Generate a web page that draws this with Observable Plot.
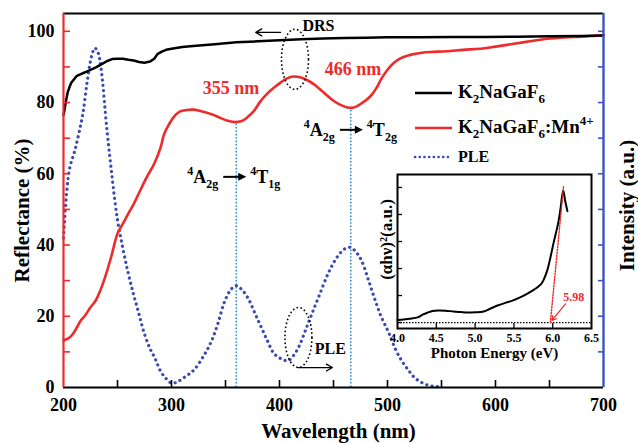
<!DOCTYPE html>
<html><head><meta charset="utf-8">
<script src="https://cdn.jsdelivr.net/npm/d3@7"></script>
<script src="https://cdn.jsdelivr.net/npm/@observablehq/plot@0.6"></script>
<style>
body{margin:0;background:#fff;}
#wrap{position:relative;width:638px;height:443px;overflow:hidden;}
#wrap svg{position:absolute;}
</style></head><body><div id="wrap"></div>
<script>
// ---------- data ----------
const drsWl = [200,201,202,204,207,212,216,220,225,230,235,240,245,250,255,260,265,270,275,280,284,287,291,295,300,310,320,340,360,380,400,420,440,460,480,500,530,560,590,620,650,680,700];
const drsR  = [76.5,78,80,83,85.5,87.4,88,88.5,89.2,89.9,90.7,91.6,92.2,92.3,92.3,92,91.8,91.4,91.2,91.5,92.3,93.6,94.3,94.8,95.1,95.6,95.9,96.4,96.9,97.2,97.5,97.8,98,98.1,98.2,98.3,98.3,98.4,98.4,98.5,98.6,98.7,98.8];

const mnWl = [200,206,210,216,220,225,230,234,238,244,250,255,260,265,271,277,284,290,293,297,302,308,314,320,326,332,339,345,352,359,365,370,376,382,388,395,401,407,413,419,425,432,438,444,450,456,462,467,472,478,484,490,494,500,506,512,518,524,532,540,555,570,586,600,617,632,648,664,679,694,700];
const mnR  = [13.2,14.1,15.6,18.8,20.2,22.5,24.5,27.2,30.5,36.5,43.2,46,48.8,51.5,55.3,59,62.8,67.5,71,73.5,75.9,77.5,77.9,78,77.7,77.2,76.5,75.7,74.9,74.5,74.8,75.8,77.5,80.2,82.3,84.2,85.6,86.8,87.3,87.1,86.4,85.1,83.6,82,80.5,79.4,78.7,78.5,79,80.2,81.7,84.2,86.5,89.2,91.2,92.4,93.1,93.6,94,94.2,94.4,94.8,95.1,95.7,96.5,97.2,97.9,98.3,98.5,98.8,98.9];

const pleWl = [200,203,206,210,214,218,222,226,229,232,235,240,245,250,255,260,265,270,275,280,285,290,295,300,305,310,315,321,330,337,343,349,355,360,365,371,377,383,389,395,402,408,413,418,424,430,437,445,451,457,462,466,471,476,482,488,494,501,507,513,519,525,531,538,545,550];
const pleI  = [42,55,62,66,71,77,86,93,95.3,94,89,73,59,47,39,32,26,20.5,15,11,8,4.5,2.5,1.2,1.5,2.5,3.5,5,9,13,18,24,27.5,28.6,27.5,25,21,17,13,9.5,8,7.5,9,11.5,16,20.7,26,32,35.5,38,39.2,39.3,38,35.6,30.5,25,20,15.5,11,7.6,5,2.8,1.5,0.6,0.3,0.2];

const xTickLabels = [200,300,400,500,600,700];
const xTickMarks = [250,300,350,400,450,500,550,600,650];
const yTickLabels = [0,20,40,60,80,100];
const yTickMarks = [10,20,30,40,50,60,70,80,90,100];
const rightTickMarks = [10,20,30,40,50,60,70,80,90,100];

const dropX = [360,466];          // excitation peaks
const dropY = [74.5,78.5];        // red trough reflectance at those peaks

const peakLabels = ["355 nm","466 nm"];
const peakLabelX = [355,468];
const peakLabelY = [84,89.3];

const transFrom = [["4","A","2g"],["4","A","2g"]];
const transTo   = [["4","T","1g"],["4","T","2g"]];
const transX = [359,467];
const transY = [59,72.2];

const ellipseX = [414.8,418];
const ellipseY = [92,13.9];
const noteText = ["DRS","PLE"];
const noteX = [436,447];
const noteY = [101.6,10.8];
const noteArrowX1 = [401,417];
const noteArrowX2 = [378,449];
const noteArrowY  = [99.7,5.6];

const legendLabels = [
  [["K","n"],["2","sub"],["NaGaF","n"],["6","sub"]],
  [["K","n"],["2","sub"],["NaGaF","n"],["6","sub"],[":Mn","n"],["4+","sup"]],
  [["PLE","n"]]
];

// inset (Tauc plot)
const taucE = [4.0,4.04,4.15,4.26,4.33,4.39,4.45,4.53,4.62,4.72,4.81,4.91,5.0,5.11,5.2,5.29,5.38,5.49,5.58,5.68,5.75,5.8,5.85,5.88,5.93,5.97,6.01,6.04,6.07,6.1,6.135,6.16,6.19];
const taucV = [0.1,0.1,0.14,0.19,0.3,0.37,0.43,0.45,0.44,0.41,0.39,0.37,0.38,0.41,0.52,0.63,0.72,0.82,0.93,1.08,1.2,1.3,1.42,1.56,1.93,2.4,2.93,3.3,3.67,4.2,4.89,4.52,4.12];
const tangentE = [5.97,6.14];
const tangentV = [0,5.05];
const gapText = "5.98";
const gapTextE = 6.27, gapTextV = 0.94;
const gapArrow = {x1:6.165, y1:0.69, x2:5.99, y2:0.08};
const insetXTicks = [4.0,4.5,5.0,5.5,6.0,6.5];
const insetYTicks = [0,1,2,3,4,5];

// ---------- styles ----------
const FONT = "'Liberation Serif','Times New Roman',serif";
const RED = "#ee2a2a", BLUE = "#3c4bb0", AXBLUE = "#3d55c0", DROP = "#2e90d4";

const W = 638, H = 443, mL = 63, mR = 35, mT = 13, mB = 56;
const pw = W - mL - mR, ph = H - mT - mB;

const drs = drsWl.map((x,i)=>({x, y: drsR[i]}));
const mn = mnWl.map((x,i)=>({x, y: mnR[i]}));
const ple = pleWl.map((x,i)=>({x, y: pleI[i]}));
const drops = dropX.map((x,i)=>({x, y: dropY[i]}));
const peaks = peakLabels.map((t,i)=>({t, x: peakLabelX[i], y: peakLabelY[i]}));
const notes = noteText.map((t,i)=>({t, x: noteX[i], y: noteY[i]}));
const noteArrows = noteArrowX1.map((x1,i)=>({x1, x2: noteArrowX2[i], y: noteArrowY[i]}));

function addRich(textSel, parts, big, small) {
  let cur = 0;
  for (const [s, kind] of parts) {
    const target = kind === "sub" ? 5 : kind === "sup" ? -8 : 0;
    textSel.append("tspan").attr("font-size", kind === "n" ? big : small)
      .attr("dy", target - cur).text(s);
    cur = target;
  }
}

const ellipseMark = (index, scales) => {
  const g = d3.create("svg:g").attr("fill","none").attr("stroke","black")
    .attr("stroke-width",1.6).attr("stroke-dasharray","1.6 2.4");
  ellipseX.forEach((x,i)=>{
    g.append("ellipse").attr("cx", scales.x(x)).attr("cy", scales.y(ellipseY[i]))
      .attr("rx", 13.5).attr("ry", 30);
  });
  return g.node();
};

const transitionMark = (index, scales) => {
  const g = d3.create("svg:g").attr("font-family", FONT).attr("font-weight","bold").attr("fill","black");
  transX.forEach((x,i)=>{
    const cx = scales.x(x), cy = scales.y(transY[i]);
    const half = 11.5;
    g.append("line").attr("x1", cx-half).attr("x2", cx+half-6).attr("y1", cy).attr("y2", cy)
      .attr("stroke","black").attr("stroke-width",2);
    g.append("path").attr("d", `M${cx+half},${cy}L${cx+half-8},${cy-4}L${cx+half-8},${cy+4}Z`);
    const t1 = g.append("text").attr("x", cx-half-5).attr("y", cy+6).attr("text-anchor","end");
    addRich(t1, [[transFrom[i][0],"sup"],[transFrom[i][1],"n"],[transFrom[i][2],"sub"]], 18, 12);
    const t2 = g.append("text").attr("x", cx+half+4).attr("y", cy+6).attr("text-anchor","start");
    addRich(t2, [[transTo[i][0],"sup"],[transTo[i][1],"n"],[transTo[i][2],"sub"]], 18, 12);
  });
  return g.node();
};

const legendMark = () => {
  const g = d3.create("svg:g").attr("font-family", FONT).attr("font-weight","bold").attr("fill","black");
  const ys = [93,128,157];
  const strokes = ["black", RED, BLUE];
  legendLabels.forEach((parts,i)=>{
    const y = ys[i];
    const ln = g.append("line").attr("x1",415).attr("x2",452).attr("y1",y).attr("y2",y)
      .attr("stroke", strokes[i]);
    if (i < 2) ln.attr("stroke-width",2.5);
    else ln.attr("stroke-width",2.6).attr("stroke-dasharray","0.1 4.6").attr("stroke-linecap","round");
    const t = g.append("text").attr("x",458).attr("y",y+5).attr("text-anchor","start");
    addRich(t, parts, i < 2 ? 19 : 16, 13);
  });
  return g.node();
};

const txt = {fontWeight: "bold", fill: "black", lineAnchor: "middle"};

const main = Plot.plot({
  width: W, height: H, marginLeft: mL, marginRight: mR, marginTop: mT, marginBottom: mB,
  style: {background: "white", fontFamily: FONT, fontWeight: "bold", overflow: "visible"},
  x: {domain: [200,700], axis: null},
  y: {domain: [0,105], axis: null},
  marks: [
    Plot.ruleX(drops, {x: "x", y1: 0, y2: "y", stroke: DROP, strokeWidth: 1.6, strokeDasharray: "1.6 1.8"}),
    Plot.line(ple, {x: "x", y: "y", stroke: BLUE, strokeWidth: 3.2, strokeDasharray: "0.1 5.3", strokeLinecap: "round", curve: "catmull-rom"}),
    Plot.line(mn, {x: "x", y: "y", stroke: RED, strokeWidth: 2.6, curve: "catmull-rom"}),
    Plot.line(drs, {x: "x", y: "y", stroke: "black", strokeWidth: 2.5}),
    // frame
    Plot.ruleY([105], {stroke: "black", strokeWidth: 2}),
    Plot.ruleY([0], {stroke: "black", strokeWidth: 2.2}),
    Plot.ruleX([200], {stroke: RED, strokeWidth: 2.2}),
    Plot.ruleX([700], {stroke: AXBLUE, strokeWidth: 2.4}),
    // ticks
    Plot.tickX(xTickMarks, {x: d=>d, stroke: "black", strokeWidth: 1.6, insetTop: ph - 7}),
    Plot.tickY(yTickMarks, {y: d=>d, stroke: RED, strokeWidth: 1.6, insetRight: pw - 7}),
    Plot.tickY(rightTickMarks, {y: d=>d, stroke: AXBLUE, strokeWidth: 1.6, insetLeft: pw - 5}),
    // tick labels
    Plot.text(xTickLabels, {...txt, x: d=>d, text: d=>String(d), frameAnchor: "bottom", textAnchor: "middle", dy: 18, fontSize: 18}),
    Plot.text(yTickLabels, {...txt, y: d=>d, text: d=>String(d), frameAnchor: "left", textAnchor: "end", dx: -9, fontSize: 18}),
    // axis titles
    Plot.text(["Wavelength (nm)"], {...txt, frameAnchor: "bottom", textAnchor: "middle", dx: 5, dy: 44, fontSize: 21}),
    Plot.text(["Reflectance (%)"], {...txt, frameAnchor: "left", textAnchor: "middle", dx: -41, dy: 10, rotate: -90, fontSize: 21}),
    Plot.text(["Intensity (a.u.)"], {...txt, frameAnchor: "right", textAnchor: "middle", dx: 24, dy: 5, rotate: -90, fontSize: 21}),
    // annotations
    Plot.text(peaks, {...txt, x: "x", y: "y", text: "t", fill: RED, fontSize: 18}),
    Plot.text(notes, {...txt, x: "x", y: "y", text: "t", fontSize: 16}),
    Plot.arrow(noteArrows, {x1: "x1", x2: "x2", y1: "y", y2: "y", stroke: "black", strokeWidth: 1.3, headLength: 8}),
    ellipseMark,
    transitionMark,
    legendMark
  ]
});
main.style.left = "0px"; main.style.top = "0px";
document.getElementById("wrap").appendChild(main);

// ---------- inset ----------
const tauc = taucE.map((x,i)=>({x, y: taucV[i]}));
const tangent = tangentE.map((x,i)=>({x, y: tangentV[i]}));
const iW = 225, iH = 195, imL = 22, imR = 9, imT = 4, imB = 37;
const iph = iH - imT - imB, ipw = iW - imL - imR;
const inset = Plot.plot({
  width: iW, height: iH, marginLeft: imL, marginRight: imR, marginTop: imT, marginBottom: imB,
  style: {background: "transparent", fontFamily: FONT, fontWeight: "bold", overflow: "visible"},
  x: {domain: [4.0,6.5], axis: null},
  y: {domain: [-0.22,5.48], axis: null},
  marks: [
    Plot.frame({fill: "white", stroke: "none"}),
    Plot.ruleY([0], {stroke: "black", strokeWidth: 1.3, strokeDasharray: "1.5 1.5"}),
    Plot.line(tauc, {x: "x", y: "y", stroke: "black", strokeWidth: 2, curve: "catmull-rom"}),
    Plot.line(tangent, {x: "x", y: "y", stroke: RED, strokeWidth: 1.4, strokeDasharray: "1.5 1.5"}),
    Plot.arrow([gapArrow], {x1: "x1", y1: "y1", x2: "x2", y2: "y2", stroke: RED, strokeWidth: 1.2, headLength: 6}),
    Plot.text([gapText], {...txt, x: gapTextE, y: gapTextV, text: d=>d, fill: RED, fontSize: 12}),
    Plot.tickX(insetXTicks.slice(1,-1), {x: d=>d, stroke: "black", strokeWidth: 1.3, insetTop: iph - 5}),
    Plot.tickY(insetYTicks, {y: d=>d, stroke: "black", strokeWidth: 1.3, insetRight: ipw - 5}),
    Plot.frame({stroke: "black", strokeWidth: 2}),
    Plot.text(insetXTicks, {...txt, x: d=>d, text: d=>d.toFixed(1), frameAnchor: "bottom", textAnchor: "middle", dy: 10, fontSize: 12}),
    Plot.text(["Photon Energy (eV)"], {...txt, frameAnchor: "bottom", textAnchor: "middle", dy: 25, fontSize: 15}),
    Plot.text(["(αhν)²(a.u.)"], {...txt, frameAnchor: "left", textAnchor: "middle", dx: -11, dy: -12, rotate: -90, fontSize: 17})
  ]
});
inset.style.left = "375px"; inset.style.top = "170px";
document.getElementById("wrap").appendChild(inset);
</script>
</body></html>
